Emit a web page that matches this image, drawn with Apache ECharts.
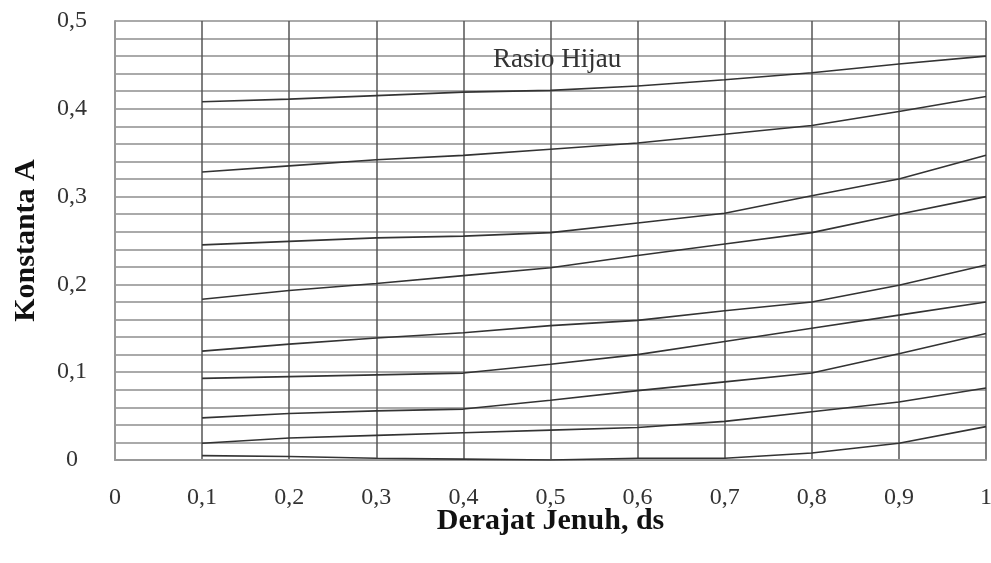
<!DOCTYPE html>
<html>
<head>
<meta charset="utf-8">
<script src="https://cdn.jsdelivr.net/npm/echarts@6/dist/echarts.min.js"></script>
<style>html,body{margin:0;padding:0;background:#fff}#c{width:991px;height:563px}</style>
</head>
<body>
<div id="c"></div>
<script>
const ds = [0.1, 0.2, 0.3, 0.4, 0.5, 0.6, 0.7, 0.8, 0.9, 1.0];
const curve1 = [0.408, 0.411, 0.415, 0.419, 0.421, 0.426, 0.433, 0.441, 0.451, 0.460];
const curve2 = [0.328, 0.335, 0.342, 0.347, 0.354, 0.361, 0.371, 0.381, 0.397, 0.414];
const curve3 = [0.245, 0.249, 0.253, 0.255, 0.259, 0.270, 0.281, 0.301, 0.320, 0.347];
const curve4 = [0.183, 0.193, 0.201, 0.210, 0.219, 0.233, 0.246, 0.259, 0.280, 0.300];
const curve5 = [0.124, 0.132, 0.139, 0.145, 0.153, 0.159, 0.170, 0.180, 0.199, 0.222];
const curve6 = [0.093, 0.095, 0.097, 0.099, 0.109, 0.120, 0.135, 0.150, 0.165, 0.180];
const curve7 = [0.048, 0.053, 0.056, 0.058, 0.068, 0.079, 0.089, 0.099, 0.121, 0.144];
const curve8 = [0.019, 0.025, 0.028, 0.031, 0.034, 0.037, 0.044, 0.055, 0.066, 0.082];
const curve9 = [0.005, 0.004, 0.002, 0.001, 0.000, 0.002, 0.002, 0.008, 0.019, 0.038];
const curves = [curve1, curve2, curve3, curve4, curve5, curve6, curve7, curve8, curve9];
const xTitle = 'Derajat Jenuh, ds';
const yTitle = 'Konstanta A';
const note = 'Rasio Hijau';

const fmt = v => String(+v.toFixed(1)).replace('.', ',');
const chart = echarts.init(document.getElementById('c'));
chart.setOption({
  animation: false,
  backgroundColor: '#fff',
  grid: {left: 115, right: 5, top: 21, bottom: 103, show: false, containLabel: false, outerBoundsMode: 'none'},
  title: {
    text: note, left: 488, top: 41,
    textStyle: {fontFamily: 'Liberation Serif', fontSize: 27, fontWeight: 'normal', color: '#333'}
  },
  xAxis: {
    type: 'value', min: 0, max: 1, interval: 0.1,
    name: xTitle, nameLocation: 'middle', nameGap: 46, nameMoveOverlap: false,
    nameTextStyle: {fontFamily: 'Liberation Serif', fontSize: 30, fontWeight: 'bold', color: '#111'},
    axisLine: {show: true, onZero: false, lineStyle: {color: '#999', width: 2}},
    axisTick: {show: false},
    axisLabel: {formatter: fmt, margin: 26, fontFamily: 'Liberation Serif', fontSize: 24, color: '#333'},
    splitLine: {show: true, lineStyle: {color: '#555', width: 1.5}}
  },
  yAxis: {
    type: 'value', min: 0, max: 0.5, interval: 0.1,
    name: yTitle, nameLocation: 'middle', nameGap: 74, nameRotate: 90,
    nameTextStyle: {fontFamily: 'Liberation Serif', fontSize: 30, fontWeight: 'bold', color: '#111'},
    axisLine: {show: true, lineStyle: {color: '#999', width: 2}},
    axisTick: {show: false},
    axisLabel: {formatter: fmt, margin: 43, align: 'center', fontFamily: 'Liberation Serif', fontSize: 24, color: '#333'},
    splitLine: {show: true, lineStyle: {color: '#aaa', width: 2}},
    minorTick: {show: false, splitNumber: 5},
    minorSplitLine: {show: true, lineStyle: {color: '#aaa', width: 2}}
  },
  series: curves.map((c, i) => ({
    type: 'line', name: 'c' + (i + 1),
    data: ds.map((x, j) => [x, c[j]]),
    showSymbol: false, symbol: 'none',
    lineStyle: {color: '#333', width: 1.6},
    z: 5
  }))
});
</script>
</body>
</html>
